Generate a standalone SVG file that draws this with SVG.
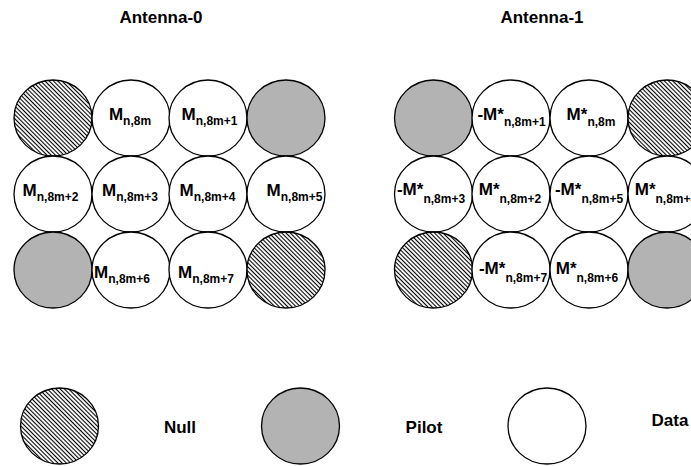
<svg xmlns="http://www.w3.org/2000/svg" width="691" height="466" viewBox="0 0 691 466">
<defs>
<pattern id="hatch" patternUnits="userSpaceOnUse" width="3" height="3" patternTransform="rotate(45)">
<rect width="3" height="3" fill="#ffffff"/>
<line x1="0" y1="1.5" x2="3" y2="1.5" stroke="#000000" stroke-width="1.1"/>
</pattern>
<style>
.c{stroke:#000;stroke-width:1.3}
.null{fill:url(#hatch)}
.pilot{fill:#b3b3b3}
.data{fill:#ffffff}
text{font-family:"Liberation Sans",Arial,sans-serif;font-weight:bold;fill:#000}
.t{font-size:17px;text-anchor:middle}
.lbl{font-size:17px;text-anchor:middle}
.sub{font-size:12px}
</style>
</defs>
<rect width="691" height="466" fill="#ffffff"/>
<text class="t" x="161" y="23">Antenna-0</text>
<text class="t" x="542" y="23">Antenna-1</text>

<g id="antenna0">
<g id="a0-r1c1"><ellipse class="c null" cx="53" cy="118" rx="39" ry="38"/></g>
<g id="a0-r1c2"><ellipse class="c data" cx="131" cy="118" rx="39" ry="38"/><text class="lbl" x="130" y="120">M<tspan class="sub" dy="5">n,8m</tspan></text></g>
<g id="a0-r1c3"><ellipse class="c data" cx="208" cy="118" rx="39" ry="38"/><text class="lbl" x="209.5" y="120">M<tspan class="sub" dy="5">n,8m+1</tspan></text></g>
<g id="a0-r1c4"><ellipse class="c pilot" cx="286" cy="118" rx="39" ry="38"/></g>
<g id="a0-r2c1"><ellipse class="c data" cx="53" cy="194" rx="39" ry="38"/><text class="lbl" x="50.5" y="196">M<tspan class="sub" dy="5">n,8m+2</tspan></text></g>
<g id="a0-r2c2"><ellipse class="c data" cx="131" cy="194" rx="39" ry="38"/><text class="lbl" x="130" y="196">M<tspan class="sub" dy="5">n,8m+3</tspan></text></g>
<g id="a0-r2c3"><ellipse class="c data" cx="208" cy="194" rx="39" ry="38"/><text class="lbl" x="207.5" y="196">M<tspan class="sub" dy="5">n,8m+4</tspan></text></g>
<g id="a0-r2c4"><ellipse class="c data" cx="286" cy="194" rx="39" ry="38"/><text class="lbl" x="294.5" y="196">M<tspan class="sub" dy="5">n,8m+5</tspan></text></g>
<g id="a0-r3c1"><ellipse class="c pilot" cx="53" cy="270" rx="39" ry="38"/></g>
<g id="a0-r3c2"><ellipse class="c data" cx="131" cy="270" rx="39" ry="38"/><text class="lbl" x="122" y="278">M<tspan class="sub" dy="5">n,8m+6</tspan></text></g>
<g id="a0-r3c3"><ellipse class="c data" cx="208" cy="270" rx="39" ry="38"/><text class="lbl" x="206" y="278">M<tspan class="sub" dy="5">n,8m+7</tspan></text></g>
<g id="a0-r3c4"><ellipse class="c null" cx="286" cy="270" rx="39" ry="38"/></g>
</g>

<g id="antenna1">
<g id="a1-r1c1"><ellipse class="c pilot" cx="433.5" cy="118" rx="39" ry="38"/></g>
<g id="a1-r1c2"><ellipse class="c data" cx="511" cy="118" rx="39" ry="38"/><text class="lbl" x="511.5" y="120">-M*<tspan class="sub" dy="6">n,8m+1</tspan></text></g>
<g id="a1-r1c3"><ellipse class="c data" cx="589" cy="118" rx="39" ry="38"/><text class="lbl" x="591" y="120">M*<tspan class="sub" dy="6">n,8m</tspan></text></g>
<g id="a1-r1c4"><ellipse class="c null" cx="667" cy="118" rx="39" ry="38"/></g>
<g id="a1-r2c1"><ellipse class="c data" cx="433.5" cy="194" rx="39" ry="38"/><text class="lbl" x="431" y="195">-M*<tspan class="sub" dy="8">n,8m+3</tspan></text></g>
<g id="a1-r2c2"><ellipse class="c data" cx="511" cy="194" rx="39" ry="38"/><text class="lbl" x="510" y="195">M*<tspan class="sub" dy="8">n,8m+2</tspan></text></g>
<g id="a1-r2c3"><ellipse class="c data" cx="589" cy="194" rx="39" ry="38"/><text class="lbl" x="589" y="195">-M*<tspan class="sub" dy="8">n,8m+5</tspan></text></g>
<g id="a1-r2c4"><ellipse class="c data" cx="667" cy="194" rx="39" ry="38"/><text class="lbl" x="666" y="195">M*<tspan class="sub" dy="8">n,8m+4</tspan></text></g>
<g id="a1-r3c1"><ellipse class="c null" cx="433.5" cy="270" rx="39" ry="38"/></g>
<g id="a1-r3c2"><ellipse class="c data" cx="511" cy="270" rx="39" ry="38"/><text class="lbl" x="513" y="274">-M*<tspan class="sub" dy="8">n,8m+7</tspan></text></g>
<g id="a1-r3c3"><ellipse class="c data" cx="589" cy="270" rx="39" ry="38"/><text class="lbl" x="587" y="274">M*<tspan class="sub" dy="8">n,8m+6</tspan></text></g>
<g id="a1-r3c4"><ellipse class="c pilot" cx="667" cy="270" rx="39" ry="38"/></g>
</g>

<g id="legend">
<g id="leg-null"><ellipse class="c null" cx="59.5" cy="426" rx="39" ry="38"/><text class="t" x="180" y="433">Null</text></g>
<g id="leg-pilot"><ellipse class="c pilot" cx="300.5" cy="426" rx="39" ry="38"/><text class="t" x="424" y="433">Pilot</text></g>
<g id="leg-data"><ellipse class="c data" cx="547" cy="426" rx="39" ry="38"/><text class="t" x="670" y="426">Data</text></g>
</g>
<g id="connectors"/>
</svg>
